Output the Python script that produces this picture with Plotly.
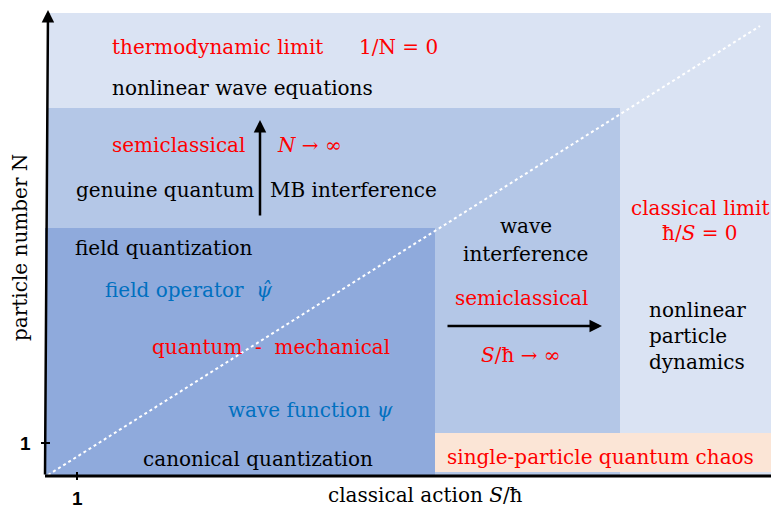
import plotly.graph_objects as go

# ---------------- data (diagram coordinates: origin at axis origin) ----------------
region_names = ["classical / thermodynamic", "semiclassical", "quantum-mechanical", "single-particle chaos"]
region_x0 = [2, 2, 0, 390]
region_x1 = [726, 575, 390, 726]
region_y0 = [0, 0, 0, 4]
region_y1 = [463, 368, 248, 43]
region_colors = ["#DAE3F3", "#B4C7E7", "#8FAADC", "#FBE5D6"]

diag_x = [3, 715]
diag_y = [1, 450]

tick_x_val = 32
tick_y_val = 33
tick_label = "1"

x_title = "classical action <i>S</i>/ħ"
y_title = "particle number N"

RED = "#FF0000"
BLUE = "#0070C0"
BLACK = "#000000"

# text labels: (text, x, y, xanchor, color)
labels = [
    ("thermodynamic limit", 65, 429, "left", RED),
    ("1/N = 0", 312, 429, "left", RED),
    ("nonlinear wave equations", 65, 388, "left", BLACK),
    ("semiclassical", 65, 331, "left", RED),
    ("<i>N</i> → ∞", 230, 331, "left", RED),
    ("genuine quantum", 211, 286, "right", BLACK),
    ("MB interference", 223, 286, "left", BLACK),
    ("field quantization", 28, 228, "left", BLACK),
    ("field operator  <i>ψ̂</i>", 58, 186, "left", BLUE),
    ("quantum  -  mechanical", 105, 129, "left", RED),
    ("wave function <i>ψ</i>", 181, 66, "left", BLUE),
    ("canonical quantization", 96, 17, "left", BLACK),
    ("wave", 481, 250, "center", BLACK),
    ("interference", 480, 222, "center", BLACK),
    ("semiclassical", 476, 178, "center", RED),
    ("<i>S</i>/ħ → ∞", 475, 121, "center", RED),
    ("classical limit", 655, 268, "center", RED),
    ("ħ/<i>S</i> = 0", 655, 243, "center", RED),
    ("nonlinear<br>particle<br>dynamics", 602, 140, "left", BLACK),
    ("single-particle quantum chaos", 400, 19, "left", RED),
]

# arrows: (x_tail, y_tail, x_head, y_head)
arrows = [
    (215, 259, 215, 356),
    (401, 150, 557, 150),
]

FONT = "DejaVu Serif"
FS = 20

fig = go.Figure()

for x0, x1, y0, y1, c in zip(region_x0, region_x1, region_y0, region_y1, region_colors):
    fig.add_shape(type="rect", x0=x0, x1=x1, y0=y0, y1=y1,
                  fillcolor=c, line=dict(width=0), layer="below")

fig.add_trace(go.Scatter(x=diag_x, y=diag_y, mode="lines",
                         line=dict(color="white", width=2, dash="dot"),
                         hoverinfo="skip", showlegend=False))

# x axis line
fig.add_shape(type="line", x0=0, x1=726, y0=0, y1=0, line=dict(color="black", width=3))
# y axis arrow
fig.add_annotation(x=3, y=466, ax=0, ay=0, xref="x", yref="y", axref="x", ayref="y",
                   showarrow=True, arrowhead=2, arrowsize=1, arrowwidth=2.5,
                   arrowcolor="black", text="")
# ticks
fig.add_shape(type="line", x0=-4, x1=5, y0=tick_y_val, y1=tick_y_val, line=dict(color="black", width=2))
fig.add_shape(type="line", x0=tick_x_val, x1=tick_x_val, y0=-4, y1=4, line=dict(color="black", width=2))
fig.add_annotation(x=-20, y=tick_y_val, text="<b>" + tick_label + "</b>", showarrow=False,
                   font=dict(family="Liberation Sans", size=19, color="black"))
fig.add_annotation(x=tick_x_val, y=-22, text="<b>" + tick_label + "</b>", showarrow=False,
                   font=dict(family="Liberation Sans", size=19, color="black"))

# axis titles
fig.add_annotation(x=380, y=-19, text=x_title, showarrow=False,
                   font=dict(family=FONT, size=FS, color="black"))
fig.add_annotation(x=-25, y=228, text=y_title, showarrow=False, textangle=-90,
                   font=dict(family=FONT, size=FS, color="black"))

for t, x, y, xa, c in labels:
    fig.add_annotation(x=x, y=y, text=t, showarrow=False, xanchor=xa, align=xa if xa != "center" else "center",
                       font=dict(family=FONT, size=FS, color=c))

for xt, yt, xh, yh in arrows:
    fig.add_annotation(x=xh, y=yh, ax=xt, ay=yt, xref="x", yref="y", axref="x", ayref="y",
                       showarrow=True, arrowhead=2, arrowsize=1, arrowwidth=2.5,
                       arrowcolor="black", text="")

fig.update_layout(
    width=771, height=510,
    margin=dict(l=0, r=0, t=0, b=0),
    paper_bgcolor="white", plot_bgcolor="white",
    xaxis=dict(range=[-45, 726], visible=False, fixedrange=True),
    yaxis=dict(range=[-34, 476], visible=False, fixedrange=True),
    showlegend=False,
)

fig.write_html("out.html", config={"displayModeBar": False},
               post_script="document.body.style.margin='0';document.body.style.overflow='hidden';")
